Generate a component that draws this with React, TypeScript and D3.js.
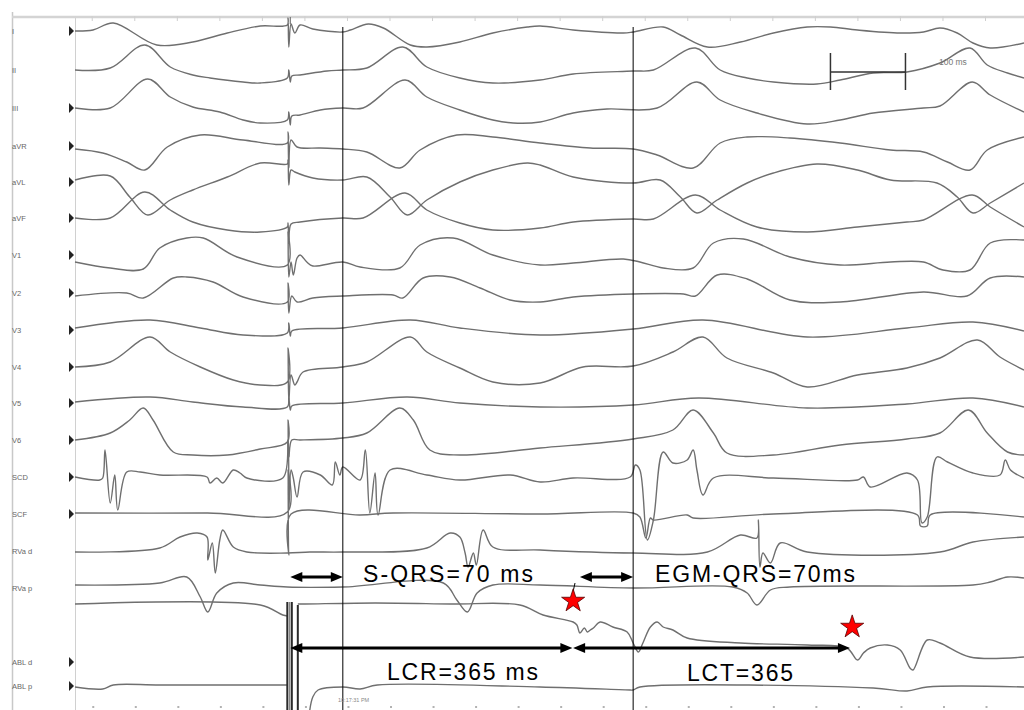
import React from 'react';
import * as d3 from 'd3';

type P = [number, number];

// time in ms (100 ms scale bar), amplitude in a.u. (positive = up)
const T_MAX = 1265;

const leadI: P[] = [[0,0],[24,1],[51,8],[109,-14],[157,-11],[203,-2],[247,5],[283,6],[284,13],[285,-16],[288,7],[293,-2],[300,6],[317,2],[357,-1],[367,1],[391,7],[411,3],[447,-14],[469,-16],[513,-11],[557,-2],[603,4],[620,5],[664,1],[731,-2],[744,-1],[784,4],[807,-4],[843,-16],[887,-11],[931,-2],[976,4],[1007,4],[1043,1],[1100,-2],[1131,-1],[1153,3],[1176,-2],[1197,-12],[1220,-17],[1265,-12]];
const leadII: P[] = [[0,0],[47,2],[93,25],[127,3],[157,-5],[180,-8],[224,-12],[247,-13],[283,-8],[285,0],[287,-12],[289,-6],[300,-5],[336,-1],[357,0],[389,2],[437,23],[469,3],[513,-8],[557,-13],[620,-10],[664,-4],[744,-1],[771,0],[827,22],[860,0],[896,-8],[931,-12],[989,-14],[1020,-10],[1064,-3],[1109,-2],[1153,7],[1193,22],[1216,5],[1243,-3],[1265,-8]];
const leadIII: P[] = [[0,0],[47,0],[97,29],[127,11],[157,1],[193,-4],[224,-12],[247,-15],[283,-12],[285,-4],[287,-17],[289,-8],[300,-7],[327,-2],[357,0],[384,0],[440,28],[469,11],[513,-2],[557,-12],[584,-15],[620,-14],[664,-5],[709,-1],[776,0],[829,26],[860,8],[909,-5],[976,-16],[1020,-12],[1064,-5],[1131,0],[1153,2],[1196,26],[1220,13],[1265,-4]];
const leadAVR: P[] = [[0,-3],[37,-7],[69,-16],[93,-24],[123,-1],[167,11],[224,6],[283,3],[284,14],[285,-22],[288,6],[296,-1],[327,-2],[357,-3],[389,-6],[433,-22],[460,-4],[509,11],[557,9],[620,3],[687,-2],[744,-3],[776,-9],[824,-22],[860,3],[896,9],[953,8],[1020,3],[1087,-4],[1131,-6],[1163,-16],[1193,-24],[1216,-4],[1265,9]];
const leadAVL: P[] = [[0,2],[47,6],[73,-15],[97,-33],[127,-18],[157,-8],[203,5],[247,19],[283,18],[284,22],[285,-3],[288,12],[293,10],[317,4],[357,2],[389,5],[420,-15],[443,-33],[469,-18],[513,0],[557,12],[603,19],[620,17],[664,5],[744,-1],[780,2],[807,-15],[829,-31],[856,-18],[896,-1],[931,9],[989,18],[1043,12],[1087,2],[1149,-1],[1176,-15],[1197,-31],[1220,-21],[1265,-1]];
const leadAVF: P[] = [[0,0],[47,0],[93,26],[127,8],[157,-4],[203,-12],[247,-14],[283,-9],[284,-5],[285,-22],[288,-6],[300,-4],[357,0],[384,0],[440,25],[469,8],[513,-5],[557,-12],[620,-10],[664,-4],[744,-1],[771,-1],[827,23],[860,8],[909,-9],[976,-14],[1043,-9],[1109,-4],[1131,-2],[1196,23],[1220,11],[1265,-9]];
const leadV1: P[] = [[0,-7],[47,-13],[91,-14],[113,7],[149,17],[171,17],[216,-2],[283,-10],[284,23],[285,-22],[288,-7],[291,-20],[296,-3],[300,0],[309,-7],[317,-11],[357,-7],[380,-12],[433,-13],[460,10],[504,17],[557,0],[620,-10],[664,-8],[731,-4],[753,-7],[784,-13],[824,-13],[851,12],[891,16],[953,-2],[1020,-10],[1087,-7],[1131,-7],[1157,-15],[1193,-15],[1220,12],[1265,15]];
const leadV2: P[] = [[0,-3],[69,0],[91,-5],[131,15],[149,16],[184,11],[224,-4],[283,-9],[284,10],[285,-20],[289,-3],[296,-9],[317,-5],[357,-3],[424,-2],[437,-5],[464,15],[500,16],[540,5],[580,-7],[620,-9],[664,-4],[744,-1],[811,-1],[827,-3],[856,18],[896,14],[953,-7],[1020,-9],[1131,1],[1189,-3],[1220,15],[1265,16]];
const leadV3: P[] = [[0,2],[100,10],[167,2],[224,-5],[283,-3],[285,7],[287,-6],[289,-1],[357,2],[447,10],[513,2],[620,-5],[744,1],[837,10],[976,-7],[1109,2],[1197,8],[1265,-1]];
const leadV4: P[] = [[0,0],[47,5],[100,30],[127,15],[167,0],[211,-13],[247,-18],[283,-15],[284,19],[285,-35],[288,-8],[293,-18],[296,-15],[304,-5],[357,0],[389,5],[447,30],[469,15],[513,-1],[557,-15],[620,-16],[677,0],[744,1],[797,15],[837,30],[869,9],[931,-6],[976,-20],[1043,-8],[1109,-1],[1153,9],[1203,27],[1233,10],[1265,-3]];
const leadV5: P[] = [[0,1],[100,6],[157,1],[224,-4],[283,-4],[285,5],[287,-7],[289,-3],[357,0],[443,6],[513,0],[620,-4],[744,-2],[831,5],[976,-5],[1109,-1],[1197,5],[1265,-4]];
const leadV6: P[] = [[0,0],[47,7],[73,20],[91,32],[104,20],[131,-12],[157,-15],[203,-15],[247,-9],[283,-2],[284,20],[285,-17],[289,0],[300,0],[357,2],[389,7],[433,32],[451,20],[473,-10],[513,-15],[620,-8],[744,1],[797,10],[824,30],[851,7],[869,-13],[931,-15],[1020,-5],[1109,1],[1153,7],[1191,30],[1216,7],[1243,-12],[1265,-15]];
const leadSCD: P[] = [[0,0],[33,-3],[37,-1],[40,27],[47,-26],[53,2],[57,-33],[69,5],[87,5],[113,2],[176,0],[180,-6],[189,-1],[197,-6],[211,7],[220,4],[229,-1],[277,-1],[284,37],[285,-33],[288,7],[291,-1],[296,-20],[304,5],[327,2],[343,-8],[347,15],[353,2],[357,10],[380,-3],[387,27],[393,-36],[400,4],[404,-38],[420,7],[469,2],[513,-3],[580,2],[620,-5],[664,-1],[740,0],[747,12],[753,7],[763,-63],[771,-43],[784,25],[797,14],[816,17],[824,27],[829,7],[837,-18],[851,-1],[931,-1],[1043,-3],[1051,0],[1060,-10],[1109,4],[1123,-3],[1129,-46],[1136,-40],[1149,20],[1163,15],[1197,4],[1233,2],[1240,17],[1247,7],[1265,-1]];
const leadSCF: P[] = [[0,1],[176,1],[283,2],[284,44],[285,-41],[288,0],[380,-1],[424,1],[620,0],[744,1],[753,-3],[761,-24],[767,-4],[771,-6],[816,-1],[824,-4],[931,0],[1123,-1],[1127,-12],[1136,-12],[1140,-1],[1265,-3]];
const leadRVad: P[] = [[0,-1],[113,3],[140,14],[163,18],[176,14],[177,-9],[183,8],[187,-22],[193,11],[197,21],[211,4],[229,-1],[283,-2],[313,-1],[357,-1],[469,3],[500,18],[513,14],[520,-2],[524,-16],[531,-2],[535,-14],[544,21],[557,4],[620,1],[744,-2],[843,-1],[887,16],[909,13],[911,31],[913,-16],[917,-2],[927,-12],[940,8],[976,-1],[1153,-1],[1197,9],[1265,14]];
const leadRVap: P[] = [[0,3],[113,5],[149,11],[167,-9],[177,-24],[189,-5],[211,5],[247,3],[283,1],[357,1],[491,5],[509,-12],[523,-24],[536,-5],[557,3],[620,3],[744,0],[877,1],[896,-5],[909,-17],[927,-2],[953,1],[1197,3],[1220,6],[1243,11],[1265,10]];
const leadABLd: P[] = [[0,0],[247,-1],[277,-11],[283,-12],[NaN,NaN],[297,0],[307,0],[400,1],[500,0],[593,-1],[624,-11],[664,-18],[669,-21],[673,-29],[679,-24],[683,-28],[687,-26],[691,-24],[700,-18],[717,-23],[736,-28],[744,-39],[751,-48],[757,-39],[767,-23],[776,-18],[784,-23],[797,-26],[816,-34],[887,-39],[976,-41],[1029,-44],[1043,-56],[1051,-49],[1060,-44],[1083,-41],[1100,-46],[1113,-64],[1117,-66],[1136,-36],[1153,-39],[1193,-53],[1265,-53]];
const leadABLp: P[] = [[0,-1],[37,-3],[51,1],[113,1],[277,1],[283,1],[NaN,NaN],[313,-24],[317,-11],[324,-4],[357,-1],[380,-3],[403,1],[620,-1],[740,-4],[744,-4],[753,-1],[1064,-2],[1109,-5],[1136,-1],[1265,-1]];

const channelNames = ['I','II','III','aVR','aVL','aVF','V1','V2','V3','V4','V5','V6','SCD','SCF','RVa d','RVa p','ABL d','ABL p'];
const channelData: P[][] = [leadI,leadII,leadIII,leadAVR,leadAVL,leadAVF,leadV1,leadV2,leadV3,leadV4,leadV5,leadV6,leadSCD,leadSCF,leadRVad,leadRVap,leadABLd,leadABLp];
const channelMarked = [true,false,true,true,true,true,true,true,true,true,true,true,true,true,false,false,true,true];

// timing annotations (ms)
const stimTime = 287;
const qrsOnsets = [357, 744];
const sqrsArrow: [number, number] = [287, 357];
const egmArrow: [number, number] = [673, 744];
const lcrArrow: [number, number] = [287, 663];
const lctArrow: [number, number] = [664, 1033];
const starTimes = [664, 1036];
const stimArtifactTimes = [283, 286, 289, 297];
const scaleBar: [number, number] = [1007, 1107];
const annotationLabels = ['S-QRS=70 ms', 'EGM-QRS=70ms', 'LCR=365 ms', 'LCT=365'];

// layout (pixels)
const W = 1024, H = 710;
const traceBase = [31,70,108,146,182,218,255,293,330,367,403,440,477,514,551,588,604,686];
const labelY = [31,70,108,146,182,218,255,293,330,367,403,440,477,514,551,588,662,686];

const x = d3.scaleLinear().domain([0, T_MAX]).range([75, 1024]);

function Arrow({ x1, x2, y, headL = 12 }: { x1: number; x2: number; y: number; headL?: number }) {
  const hh = 5;
  return (
    <g>
      <line x1={x1 + headL - 2} x2={x2 - headL + 2} y1={y} y2={y} stroke="#000" strokeWidth={3} />
      <path d={`M${x1},${y} L${x1 + headL},${y - hh} L${x1 + headL},${y + hh} Z`} fill="#000" />
      <path d={`M${x2},${y} L${x2 - headL},${y - hh} L${x2 - headL},${y + hh} Z`} fill="#000" />
    </g>
  );
}

export default function App() {
  const lines = channelData.map((data, i) => {
    const y = d3.scaleLinear().domain([-1, 1]).range([traceBase[i] + 1, traceBase[i] - 1]);
    const gen = d3.line<P>()
      .defined(d => !isNaN(d[1]))
      .x(d => x(d[0]))
      .y(d => y(d[1]))
      .curve(d3.curveCatmullRom.alpha(0.5));
    return gen(data) || '';
  });

  const starPath = d3.symbol(d3.symbolStar, 165)() || '';
  const tickTimes = d3.range(23, T_MAX, 56.7);

  return (
    <svg width={W} height={H} style={{ position: 'absolute', left: 0, top: 0, background: '#fff' }}
      fontFamily="Liberation Sans, Arial, sans-serif">
      <rect x={0} y={0} width={W} height={H} fill="#fff" />
      {/* frame */}
      <line x1={12.5} x2={12.5} y1={12} y2={H} stroke="#c8c8c8" strokeWidth={1.5} />
      <line x1={75.5} x2={75.5} y1={17} y2={H} stroke="#d0d0d0" strokeWidth={1} />
      <line x1={12} x2={W} y1={17} y2={17} stroke="#d4d4d4" strokeWidth={2.5} />
      {tickTimes.map((t, i) => (
        <line key={'tt' + i} x1={x(t)} x2={x(t)} y1={16} y2={21} stroke="#cfcfcf" strokeWidth={1} />
      ))}
      {tickTimes.map((t, i) => (
        <line key={'bt' + i} x1={x(t)} x2={x(t) + 2} y1={707} y2={707} stroke="#999" strokeWidth={1.5} />
      ))}

      {/* labels and markers */}
      {channelNames.map((n, i) => (
        <text key={'lb' + i} x={12} y={labelY[i] + 3} fontSize={7.5} fill="#666">{n}</text>
      ))}
      {channelNames.map((n, i) => channelMarked[i] ? (
        <path key={'mk' + i} d={`M69,${labelY[i] - 5} L74,${labelY[i]} L69,${labelY[i] + 5} Z`} fill="#222" />
      ) : null)}

      {/* traces */}
      {lines.map((d, i) => (
        <path key={'tr' + i} d={d} fill="none" stroke="#6f6f6f" strokeWidth={1.4} strokeLinejoin="round" />
      ))}

      {/* stimulus artefact on ABL channels */}
      {stimArtifactTimes.map((t, i) => (
        <line key={'sa' + i} x1={x(t)} x2={x(t)} y1={i === 3 ? 605 : 602} y2={H}
          stroke={i === 1 ? '#888' : '#2a2a2a'} strokeWidth={i === 1 ? 1.5 : 2} />
      ))}
      <line x1={x(stimTime)} x2={x(stimTime)} y1={17} y2={24} stroke="#777" strokeWidth={1.2} />

      {/* QRS onset lines */}
      {qrsOnsets.map((t, i) => (
        <line key={'q' + i} x1={x(t)} x2={x(t)} y1={27} y2={H} stroke="#000" strokeWidth={1} />
      ))}

      {/* scale bar */}
      <line x1={x(scaleBar[0])} x2={x(scaleBar[1])} y1={72} y2={72} stroke="#333" strokeWidth={1.5} />
      <line x1={x(scaleBar[0])} x2={x(scaleBar[0])} y1={53} y2={90} stroke="#333" strokeWidth={1.5} />
      <line x1={x(scaleBar[1])} x2={x(scaleBar[1])} y1={53} y2={90} stroke="#333" strokeWidth={1.5} />
      <text x={939} y={65} fontSize={8.5} fill="#777">100 ms</text>

      {/* timestamp */}
      <text x={338} y={702} fontSize={5.5} fill="#888">10:17:31 PM</text>

      {/* annotations */}
      <Arrow x1={x(sqrsArrow[0])} x2={x(sqrsArrow[1])} y={577} />
      <Arrow x1={x(egmArrow[0])} x2={x(egmArrow[1])} y={577} />
      <Arrow x1={x(lcrArrow[0])} x2={x(lcrArrow[1])} y={648} />
      <Arrow x1={x(lctArrow[0])} x2={x(lctArrow[1])} y={648} />

      <text x={363} y={582} fontSize={23} fill="#000" textLength={170} lengthAdjust="spacing">{annotationLabels[0]}</text>
      <text x={655} y={582} fontSize={23} fill="#000" textLength={200} lengthAdjust="spacing">{annotationLabels[1]}</text>
      <text x={387} y={680} fontSize={23} fill="#000" textLength={151} lengthAdjust="spacing">{annotationLabels[2]}</text>
      <text x={687} y={681} fontSize={23} fill="#000" textLength={106} lengthAdjust="spacing">{annotationLabels[3]}</text>

      {/* stars */}
      <line x1={575} x2={573} y1={583} y2={592} stroke="#000" strokeWidth={1} />
      <path d={starPath} transform={`translate(${x(starTimes[0])},601)`} fill="#ff0000" stroke="#550000" strokeWidth={0.8} />
      <path d={starPath} transform={`translate(${x(starTimes[1])},627)`} fill="#ff0000" stroke="#550000" strokeWidth={0.8} />
    </svg>
  );
}
